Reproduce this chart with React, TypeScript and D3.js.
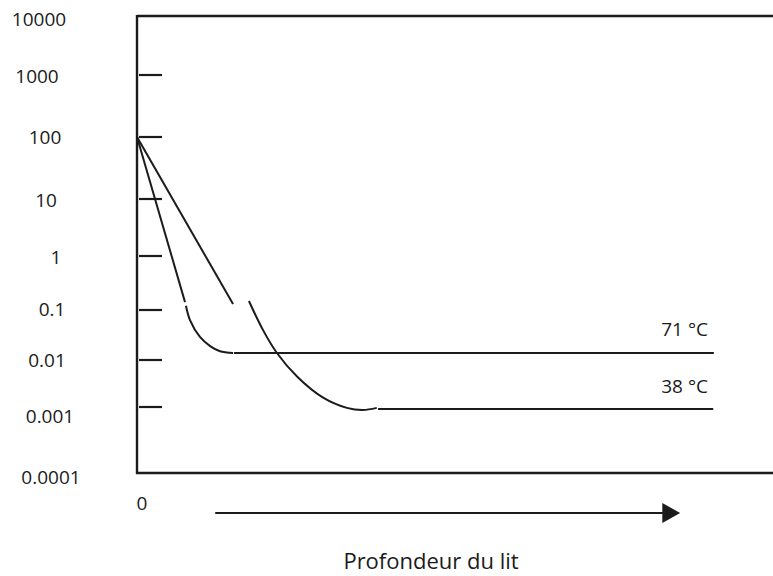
import React from "react";
import * as d3 from "d3";

const W = 773;
const H = 576;

// y axis decades, top to bottom
const decades = [10000, 1000, 100, 10, 1, 0.1, 0.01, 0.001, 0.0001];
const decadeLabels = ["10000", "1000", "100", "10", "1", "0.1", "0.01", "0.001", "0.0001"];

// [depth, concentration] — 71 °C
const drop71 = [[0, 100], [7.55, 0.14]];
const bend71 = [[7.7, 0.12], [8.33, 0.063], [9.9, 0.029], [11.5, 0.019], [13.05, 0.015], [15.1, 0.0138]];
const flat71 = [[15.25, 0.0138], [90.7, 0.0138]];

// [depth, concentration] — 38 °C
const drop38 = [[0, 100], [15.1, 0.129]];
const bend38 = [[17.6, 0.147], [19.8, 0.04], [22.0, 0.0138], [25.2, 0.0044], [29.2, 0.0016], [33.0, 0.00097], [35.5, 0.0009], [37.7, 0.00097]];
const flat38 = [[37.9, 0.00093], [90.6, 0.00093]];

const seriesLabels = ["71 °C", "38 °C"];
const xLabel = "Profondeur du lit";

const FONT = "'Open Sans', 'DejaVu Sans', sans-serif";
const INK = "#1b1b1b";

// the hand drawn axis has uneven decade spacing, so the log scale is piecewise
const y = d3
    .scaleLog()
    .domain(decades)
    .range([16, 75, 137, 199, 256, 310, 360, 407, 473]);

const x = d3.scaleLinear().domain([0, 100]).range([137, 773]);

// small per-label nudges so the numbers sit like the source text boxes
const labelX = [39, 37, 45, 46, 56, 52, 47, 50, 51];
const labelDy = [3, 1, 0, 1, 1, -1, 0, 9, 4];

const App = () => {
    const straight = d3
        .line()
        .x(d => x(d[0]))
        .y(d => y(d[1]));

    const smooth = d3
        .line()
        .x(d => x(d[0]))
        .y(d => y(d[1]))
        .curve(d3.curveCatmullRom.alpha(0.5));

    const pieces = [
        straight(drop71),
        smooth(bend71),
        straight(flat71),
        straight(drop38),
        smooth(bend38),
        straight(flat38),
    ];

    const x0 = x(0);
    const xEnd = x(100);
    const inner = decades.slice(1, -1);

    return (
        <svg
            width={W}
            height={H}
            style={{ position: "absolute", left: 0, top: 0, background: "#fff" }}
        >
            <rect width={W} height={H} fill="#fff" />

            {/* frame */}
            <g stroke={INK} strokeWidth={2.4} fill="none">
                <line x1={x0} x2={xEnd} y1={y(10000)} y2={y(10000)} />
                <line x1={x0} x2={x0} y1={y(10000) - 1} y2={y(0.0001) + 1} />
                <line x1={x0 - 1} x2={xEnd} y1={y(0.0001)} y2={y(0.0001)} />
            </g>

            {/* ticks */}
            <g stroke={INK} strokeWidth={2.2}>
                {inner.map((v, i) => (
                    <line key={i} x1={x0 + 2} x2={x0 + 25} y1={y(v)} y2={y(v)} />
                ))}
            </g>

            {/* tick labels */}
            <g fontFamily={FONT} fontSize={19} fill={INK} textAnchor="middle">
                {decadeLabels.map((t, i) => (
                    <text
                        key={t}
                        x={labelX[i]}
                        y={y(decades[i]) + labelDy[i]}
                        dominantBaseline="central"
                    >
                        {t}
                    </text>
                ))}
                <text x={x0 + 5} y={503} dominantBaseline="central">
                    0
                </text>
            </g>

            {/* curves */}
            <g stroke={INK} strokeWidth={2} fill="none" strokeLinecap="butt">
                {pieces.map((d, i) => (
                    <path key={i} d={d} />
                ))}
            </g>

            {/* series labels */}
            <g fontFamily={FONT} fontSize={19} fill={INK} textAnchor="end">
                <text x={708} y={y(flat71[1][1]) - 24} dominantBaseline="central">
                    {seriesLabels[0]}
                </text>
                <text x={708} y={y(flat38[1][1]) - 23} dominantBaseline="central">
                    {seriesLabels[1]}
                </text>
            </g>

            {/* depth arrow */}
            <g stroke={INK} fill={INK}>
                <line x1={x(12.3)} x2={x(83)} y1={513} y2={513} strokeWidth={2} />
                <path
                    d={`M${x(82.6)},${503} L${x(85.4)},513 L${x(82.6)},${523} Z`}
                    stroke="none"
                />
            </g>

            <text
                x={431}
                y={569}
                fontFamily={FONT}
                fontSize={22}
                fill={INK}
                textAnchor="middle"
            >
                {xLabel}
            </text>
        </svg>
    );
};

export default App;
